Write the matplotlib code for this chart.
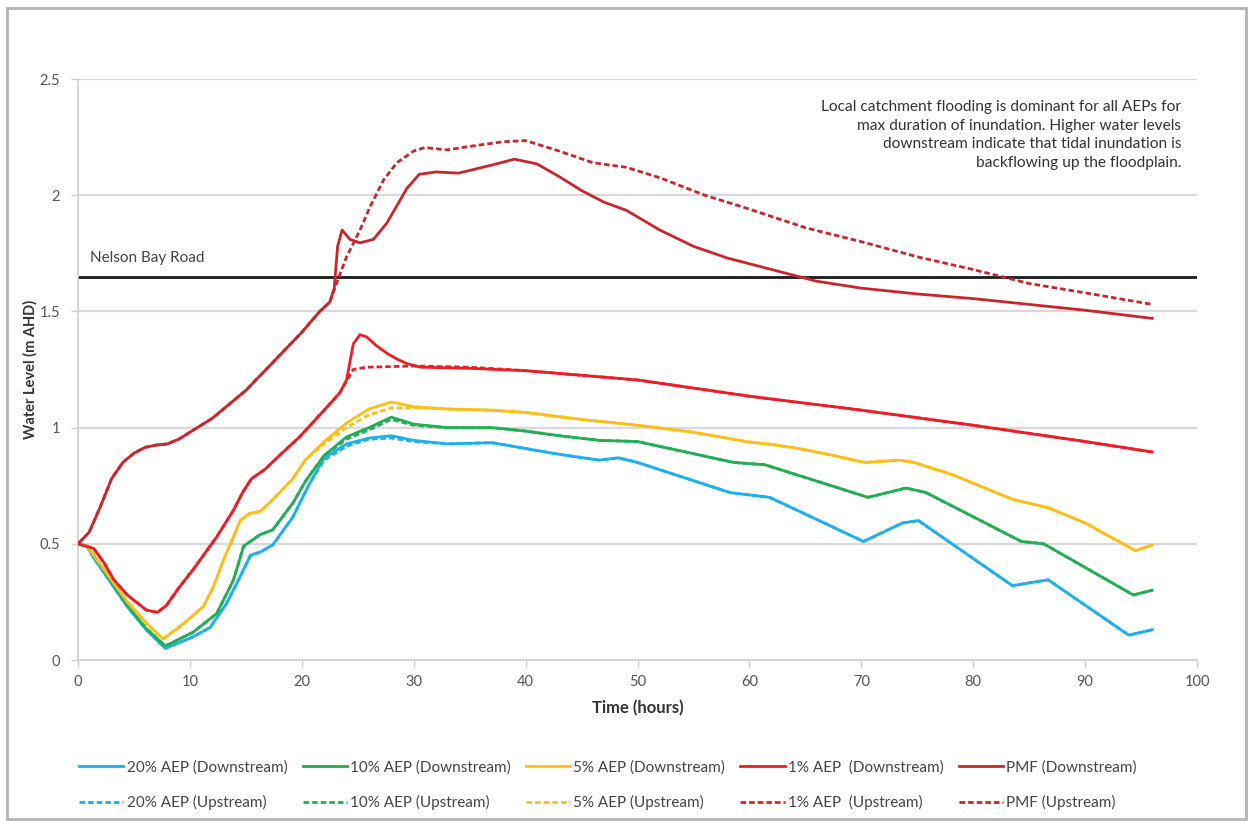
import matplotlib
matplotlib.use("Agg")
import matplotlib.pyplot as plt
from matplotlib.patches import Rectangle

plt.rcParams['font.family'] = ['Lato', 'DejaVu Sans']

# ---- data -------------------------------------------------------------
t_20_ds = [0, 0.8, 1.4, 4.4, 6.1, 7.8, 10.3, 11.8, 13.3, 14.5, 15.4, 16.3, 17.4, 19.2, 20.7, 22, 24, 26, 28, 30, 33, 37, 40, 43, 46.6, 48.3, 50, 58.3, 61.8, 70.2, 73.7, 75.1, 83.5, 86.7, 93.9, 96]
v_20_ds = [0.50, 0.49, 0.44, 0.23, 0.13, 0.05, 0.10, 0.14, 0.245, 0.36, 0.45, 0.465, 0.495, 0.615, 0.76, 0.87, 0.93, 0.955, 0.965, 0.945, 0.93, 0.935, 0.91, 0.885, 0.86, 0.87, 0.85, 0.72, 0.70, 0.51, 0.59, 0.60, 0.32, 0.345, 0.107, 0.13]
t_20_us = t_20_ds
v_20_us = [0.50, 0.49, 0.44, 0.23, 0.13, 0.05, 0.10, 0.14, 0.245, 0.36, 0.45, 0.465, 0.495, 0.615, 0.76, 0.86, 0.92, 0.95, 0.955, 0.94, 0.93, 0.935, 0.91, 0.885, 0.86, 0.87, 0.85, 0.72, 0.70, 0.51, 0.59, 0.60, 0.32, 0.345, 0.107, 0.13]

t_10_ds = [0, 0.8, 1.4, 4.4, 6.1, 7.8, 10.3, 12.4, 13.9, 14.8, 16.3, 17.4, 19.2, 20.4, 22, 24, 26, 28, 30, 33, 37, 40, 43, 46.6, 50, 58.6, 61.4, 70.6, 74, 75.8, 84.3, 86.3, 94.3, 96]
v_10_ds = [0.50, 0.49, 0.45, 0.235, 0.135, 0.06, 0.12, 0.20, 0.345, 0.49, 0.54, 0.56, 0.675, 0.775, 0.88, 0.96, 1.00, 1.045, 1.015, 1.00, 1.00, 0.985, 0.965, 0.945, 0.94, 0.85, 0.84, 0.70, 0.74, 0.72, 0.51, 0.50, 0.28, 0.30]
t_10_us = t_10_ds
v_10_us = [0.50, 0.49, 0.45, 0.235, 0.135, 0.06, 0.12, 0.20, 0.345, 0.49, 0.54, 0.56, 0.675, 0.775, 0.88, 0.95, 0.99, 1.035, 1.01, 1.00, 1.00, 0.985, 0.965, 0.945, 0.94, 0.85, 0.84, 0.70, 0.74, 0.72, 0.51, 0.50, 0.28, 0.30]

t_5_ds = [0, 0.8, 1.4, 4.4, 6.1, 7.6, 9, 10, 11.2, 12.1, 13, 14.5, 15.3, 16.3, 17.4, 19.2, 20.3, 22, 24, 26, 28, 30, 33, 37, 40, 45, 50, 55, 59.7, 62.4, 65, 67.5, 70.3, 73.4, 74.7, 78, 83.6, 86.7, 90, 94.5, 96]
v_5_ds = [0.50, 0.49, 0.45, 0.25, 0.16, 0.09, 0.14, 0.18, 0.23, 0.315, 0.43, 0.60, 0.63, 0.64, 0.69, 0.78, 0.86, 0.94, 1.02, 1.08, 1.11, 1.09, 1.08, 1.075, 1.065, 1.035, 1.01, 0.98, 0.94, 0.925, 0.905, 0.88, 0.85, 0.86, 0.85, 0.80, 0.69, 0.655, 0.59, 0.47, 0.495]
t_5_us = t_5_ds
v_5_us = [0.50, 0.49, 0.45, 0.25, 0.16, 0.09, 0.14, 0.18, 0.23, 0.315, 0.43, 0.60, 0.63, 0.64, 0.69, 0.78, 0.86, 0.93, 1.00, 1.055, 1.085, 1.085, 1.08, 1.075, 1.065, 1.035, 1.01, 0.98, 0.94, 0.925, 0.905, 0.88, 0.85, 0.86, 0.85, 0.80, 0.69, 0.655, 0.59, 0.47, 0.495]

t_1_ds = [0, 1.4, 2.3, 3.2, 4.4, 6.1, 7.1, 7.9, 9, 10.3, 12.4, 13.9, 14.7, 15.5, 16.7, 18, 19.8, 22, 23.4, 24, 24.6, 25.2, 25.8, 26.6, 27.6, 28.5, 29.4, 30.6, 35, 40, 50, 60, 70, 80, 90, 96]
v_1_ds = [0.50, 0.48, 0.42, 0.345, 0.28, 0.215, 0.205, 0.235, 0.31, 0.39, 0.53, 0.645, 0.72, 0.78, 0.82, 0.88, 0.96, 1.075, 1.15, 1.205, 1.36, 1.40, 1.39, 1.355, 1.32, 1.295, 1.275, 1.26, 1.255, 1.245, 1.205, 1.135, 1.075, 1.01, 0.94, 0.895]
t_1_us = [0, 1.4, 2.3, 3.2, 4.4, 6.1, 7.1, 7.9, 9, 10.3, 12.4, 13.9, 14.7, 15.5, 16.7, 18, 19.8, 22, 23.4, 24, 24.6, 25.8, 30, 35, 40, 50, 60, 70, 80, 90, 96]
v_1_us = [0.50, 0.48, 0.42, 0.345, 0.28, 0.215, 0.205, 0.235, 0.31, 0.39, 0.53, 0.645, 0.72, 0.78, 0.82, 0.88, 0.96, 1.075, 1.15, 1.20, 1.25, 1.26, 1.265, 1.26, 1.245, 1.205, 1.135, 1.075, 1.01, 0.94, 0.895]

t_pmf_ds = [0, 1, 2, 3, 4, 5, 6, 7, 8, 9, 10, 11, 12, 15, 18, 20, 21.6, 22.5, 22.9, 23.2, 23.6, 24.3, 25.2, 26.4, 27.6, 29.4, 30.5, 32, 34, 37, 39, 41, 43, 45, 47, 49, 52, 55, 58, 62, 66, 70, 75, 80, 85, 90, 96]
v_pmf_ds = [0.50, 0.55, 0.66, 0.78, 0.85, 0.89, 0.915, 0.925, 0.93, 0.95, 0.98, 1.01, 1.04, 1.16, 1.31, 1.41, 1.50, 1.54, 1.60, 1.78, 1.85, 1.81, 1.795, 1.81, 1.88, 2.03, 2.09, 2.10, 2.095, 2.13, 2.155, 2.135, 2.08, 2.02, 1.97, 1.935, 1.85, 1.78, 1.73, 1.68, 1.63, 1.60, 1.575, 1.555, 1.53, 1.505, 1.47]
t_pmf_us = [0, 1, 2, 3, 4, 5, 6, 7, 8, 9, 10, 11, 12, 15, 18, 20, 21.6, 22.5, 23.1, 24, 25.2, 26.1, 27.3, 28.5, 30, 31, 33, 35, 38, 40, 43, 46, 49, 52, 56, 60, 65, 70, 75, 80, 85, 90, 96]
v_pmf_us = [0.50, 0.55, 0.66, 0.78, 0.85, 0.89, 0.915, 0.925, 0.93, 0.95, 0.98, 1.01, 1.04, 1.16, 1.31, 1.41, 1.50, 1.54, 1.62, 1.735, 1.85, 1.95, 2.065, 2.14, 2.19, 2.205, 2.195, 2.21, 2.23, 2.235, 2.19, 2.14, 2.12, 2.075, 2.00, 1.94, 1.86, 1.80, 1.735, 1.68, 1.62, 1.58, 1.53]

road_level = 1.65
road_label = "Nelson Bay Road"
note = ("Local catchment flooding is dominant for all AEPs for\n"
        "max duration of inundation. Higher water levels\n"
        "downstream indicate that tidal inundation is\n"
        "backflowing up the floodplain.")

series = [
    ("20% AEP (Downstream)", t_20_ds, v_20_ds, "#1CB0EE", "-"),
    ("20% AEP (Upstream)", t_20_us, v_20_us, "#1CB0EE", "--"),
    ("10% AEP (Downstream)", t_10_ds, v_10_ds, "#22AE55", "-"),
    ("10% AEP (Upstream)", t_10_us, v_10_us, "#22AE55", "--"),
    ("5% AEP (Downstream)", t_5_ds, v_5_ds, "#FDBF16", "-"),
    ("5% AEP (Upstream)", t_5_us, v_5_us, "#FDBF16", "--"),
    ("1% AEP  (Downstream)", t_1_ds, v_1_ds, "#EE1C25", "-"),
    ("1% AEP  (Upstream)", t_1_us, v_1_us, "#EE1C25", "--"),
    ("PMF (Downstream)", t_pmf_ds, v_pmf_ds, "#C9252C", "-"),
    ("PMF (Upstream)", t_pmf_us, v_pmf_us, "#C9252C", "--"),
]

# ---- figure -------------------------------------------------------------
fig = plt.figure(figsize=(12.53, 8.21), dpi=100)
fig.patches.append(Rectangle((7 / 1253, 1 - 819 / 821), 1239 / 1253, 811 / 821,
                             transform=fig.transFigure, fill=False,
                             edgecolor="#B4B4B4", linewidth=2.0))
ax = fig.add_axes([78 / 1253, 1 - 660 / 821, 1119 / 1253, 581 / 821])

ax.set_xlim(0, 100)
ax.set_ylim(0, 2.5)
ax.set_xticks(range(0, 101, 10))
ax.set_yticks([0, 0.5, 1, 1.5, 2, 2.5])
ax.set_yticklabels(["0", "0.5", "1", "1.5", "2", "2.5"])
ax.grid(axis="y", color="#D9D9D9", linewidth=1.6)
ax.set_axisbelow(True)
for s in ("top", "right"):
    ax.spines[s].set_visible(False)
for s in ("left", "bottom"):
    ax.spines[s].set_color("#D0D0D0")
    ax.spines[s].set_linewidth(1.2)
ax.tick_params(axis="both", colors="#D0D0D0", length=5, width=1.0,
               labelcolor="#555555", labelsize=10.5)
ax.tick_params(axis="x", pad=6)
ax.tick_params(axis="y", pad=8)

ax.axhline(road_level, color="#1A1A1A", linewidth=2.0, zorder=2)
ax.text(1.1, road_level + 0.08, road_label, fontsize=11, color="#444444",
        va="center", ha="left")

handles = []
for label, t, v, c, ls in series:
    if ls == "--":
        ln, = ax.plot(t, v, color=c, linewidth=2.0, linestyle=(0, (2.0, 1.1)),
                      label=label, zorder=4, solid_joinstyle="round")
    else:
        ln, = ax.plot(t, v, color=c, linewidth=2.0, linestyle="-",
                      label=label, zorder=3, solid_joinstyle="round")
    handles.append(ln)

ax.text(98.6, 2.41, note, ha="right", va="top", fontsize=11.2,
        color="#333333", linespacing=1.42)

ax.set_xlabel("Time (hours)", fontsize=12, fontweight="bold",
              color="#333333", labelpad=8)
ax.set_ylabel("Water Level (m AHD)", fontsize=10.5, fontweight="bold",
              color="#333333", labelpad=1)

fig.legend(handles=handles, ncol=5, loc="center",
           bbox_to_anchor=(608 / 1253, 1 - 785 / 821), frameon=False,
           fontsize=11, handlelength=2.9, handletextpad=0.2,
           columnspacing=1.0, labelspacing=1.35, labelcolor="#444444")

fig.savefig("out.png", dpi=100)
